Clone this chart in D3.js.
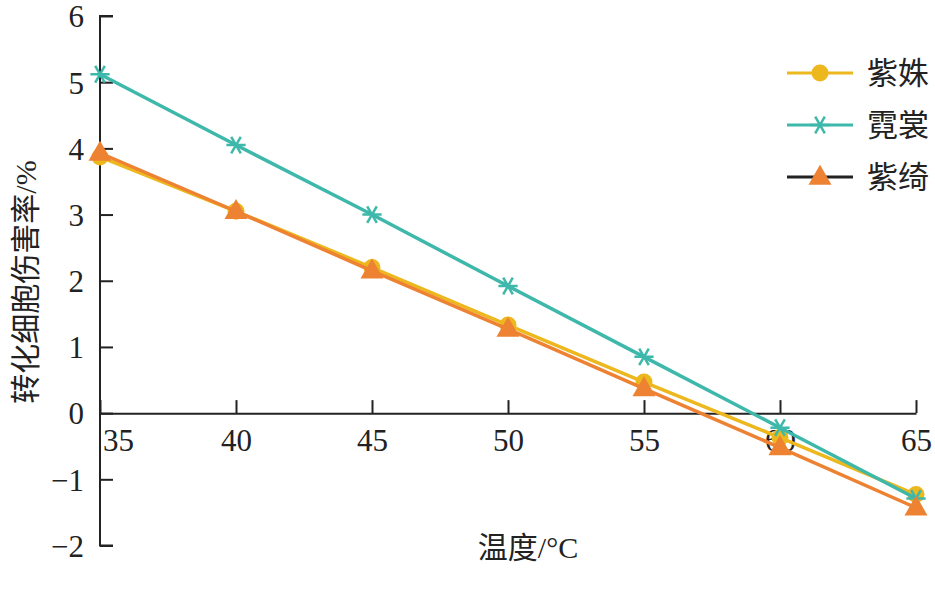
<!DOCTYPE html>
<html>
<head>
<meta charset="utf-8">
<script src="https://cdn.jsdelivr.net/npm/d3@7"></script>
<style>
  body { margin: 0; background: #fff; }
  text { font-family: "Liberation Serif", "Noto Sans CJK SC", serif; fill: #222; }
</style>
</head>
<body>
<div id="chart"></div>
<script>
// data
var temps = [35, 40, 45, 50, 55, 60, 65];
var zishu = [3.87, 3.05, 2.2, 1.33, 0.47, -0.37, -1.23];
var nichang = [5.12, 4.05, 3.0, 1.92, 0.85, -0.22, -1.29];
var ziqi = [3.93, 3.05, 2.15, 1.27, 0.37, -0.52, -1.43];
var seriesNames = ["紫姝", "霓裳", "紫绮"];
var yTicks = [-2, -1, 0, 1, 2, 3, 4, 5, 6];

var width = 935, height = 595;
var margin = {top: 16, right: 19, bottom: 50, left: 100};

var svg = d3.select("#chart").append("svg")
    .attr("width", width)
    .attr("height", height);

var x = d3.scaleLinear()
  .domain([35, 65])
  .range([margin.left, width - margin.right]);

var y = d3.scaleLinear()
  .domain([-2, 6])
  .range([545.5, margin.top]);

// y axis, ticks pointing in
var yAxis = svg.append("g")
  .attr("transform", "translate(" + margin.left + ",0)")
  .call(d3.axisRight(y).tickValues(yTicks).tickSize(13).tickFormat(function(d) { return d < 0 ? "\u2212" + (-d) : d; }));
yAxis.select(".domain").attr("stroke", "#222").attr("stroke-width", 2).attr("d", "M13," + y(6) + "H0V" + y(-2) + "H13");
yAxis.selectAll(".tick line").attr("stroke", "#222").attr("stroke-width", 2);
yAxis.selectAll(".tick text")
  .attr("x", -16).attr("text-anchor", "end").attr("dy", "0.35em")
  .style("font-size", "31px").style("font-family", "Liberation Serif");

// x axis at y = 0, ticks pointing up
var xAxis = svg.append("g")
  .attr("transform", "translate(0," + y(0) + ")")
  .call(d3.axisTop(x).tickValues(temps).tickSize(13).tickSizeOuter(0));
xAxis.select(".domain").attr("stroke", "#222").attr("stroke-width", 2);
xAxis.selectAll(".tick line").attr("stroke", "#222").attr("stroke-width", 2);
xAxis.selectAll(".tick text")
  .attr("y", 38).attr("dy", 0)
  .attr("x", function(d) { return d === 35 ? 18 : 0; })
  .style("font-size", "31px").style("font-family", "Liberation Serif");

// axis titles
svg.append("text")
  .attr("transform", "translate(36,282) rotate(-90)")
  .attr("text-anchor", "middle")
  .style("font-size", "30px")
  .text("转化细胞伤害率/%");

svg.append("text")
  .attr("x", 528).attr("y", 558)
  .attr("text-anchor", "middle")
  .style("font-size", "30px")
  .text("温度/°C");

var series = [
  {name: seriesNames[0], values: zishu, color: "#EDB71E", marker: "circle", legendLine: "#EDB71E"},
  {name: seriesNames[1], values: nichang, color: "#3DB8AA", marker: "asterisk", legendLine: "#3DB8AA"},
  {name: seriesNames[2], values: ziqi, color: "#EE8233", marker: "triangle", legendLine: "#222"}
];

var line = d3.line()
  .x(function(d, i) { return x(temps[i]); })
  .y(function(d) { return y(d); });

function drawMarker(g, type, color) {
  if (type === "circle") {
    g.append("circle").attr("r", 8.5).attr("fill", color);
  } else if (type === "asterisk") {
    g.append("path").attr("d", d3.symbol(d3.symbolAsterisk, 260)).attr("fill", "none")
      .attr("stroke", color).attr("stroke-width", 2.5).attr("transform", "rotate(90)");
  } else {
    g.append("path").attr("d", d3.symbol(d3.symbolTriangle, 230)).attr("fill", color)
      .attr("transform", "translate(0,1)");
  }
}

var order = [0, 1, 2];
order.forEach(function(k) {
  var s = series[k];
  svg.append("path")
    .datum(s.values)
    .attr("d", line)
    .attr("fill", "none")
    .attr("stroke", s.color)
    .attr("stroke-width", 3.5);
  s.values.forEach(function(v, i) {
    var g = svg.append("g").attr("transform", "translate(" + x(temps[i]) + "," + y(v) + ")");
    drawMarker(g, s.marker, s.color);
  });
});

// legend
var legend = svg.append("g").attr("transform", "translate(787,73)");
series.forEach(function(s, i) {
  var row = legend.append("g").attr("transform", "translate(0," + (i * 52) + ")");
  row.append("line").attr("x1", 0).attr("x2", 66).attr("y1", 0).attr("y2", 0)
    .attr("stroke", s.legendLine).attr("stroke-width", 3);
  var m = row.append("g").attr("transform", "translate(33,0)");
  drawMarker(m, s.marker, s.color);
  row.append("text").attr("x", 80).attr("y", 0).attr("dy", "0.36em")
    .style("font-size", "31px").text(s.name);
});
</script>
</body>
</html>
